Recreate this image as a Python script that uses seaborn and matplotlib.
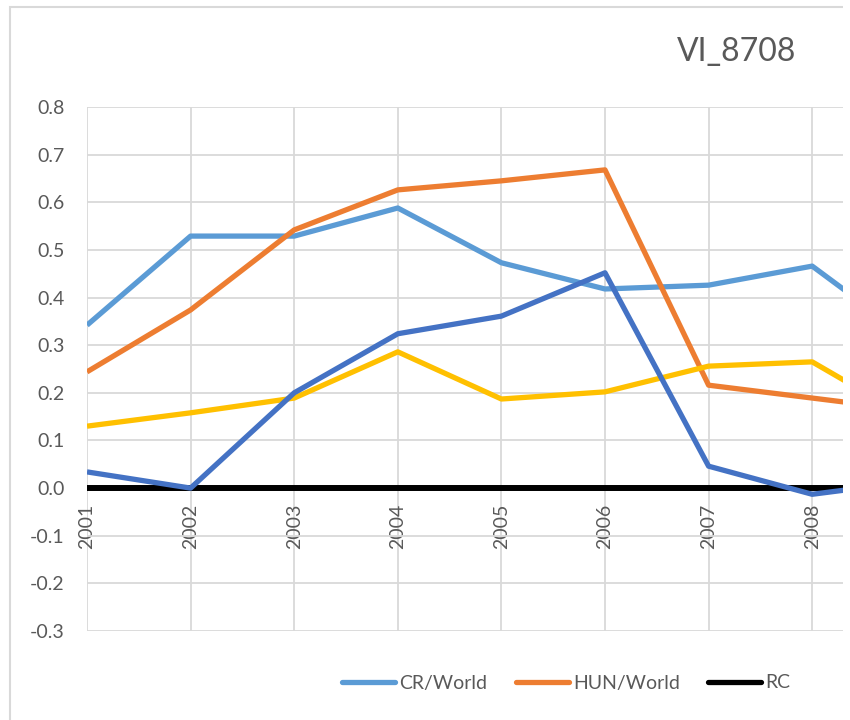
import matplotlib
matplotlib.use("Agg")
import matplotlib.pyplot as plt
import seaborn as sns
import pandas as pd
from matplotlib.patches import Rectangle
from matplotlib.lines import Line2D

years = [2001, 2002, 2003, 2004, 2005, 2006, 2007, 2008, 2009]
cr_world = [0.342, 0.529, 0.529, 0.588, 0.473, 0.418, 0.426, 0.466, 0.305]
hun_world = [0.244, 0.374, 0.542, 0.626, 0.645, 0.668, 0.216, 0.189, 0.162]
rc = [0, 0, 0, 0, 0, 0, 0, 0, 0]
pol_world = [0.130, 0.158, 0.189, 0.286, 0.187, 0.202, 0.256, 0.265, 0.139]
svk_world = [0.034, 0.000, 0.200, 0.324, 0.361, 0.452, 0.046, -0.013, 0.015]

series_names = ["CR/World", "HUN/World", "RC", "POL/World", "SVK/World"]
series_values = [cr_world, hun_world, rc, pol_world, svk_world]
colors = ["#5B9BD5", "#ED7D31", "#000000", "#FFC000", "#4472C4"]
legend_names = ["CR/World", "HUN/World", "RC"]
x_tick_labels = ["2001", "2002", "2003", "2004", "2005", "2006", "2007", "2008", ""]
y_ticks = [-0.3, -0.2, -0.1, 0.0, 0.1, 0.2, 0.3, 0.4, 0.5, 0.6, 0.7, 0.8]
title = "VI_8708"

rows = []
for name, vals in zip(series_names, series_values):
    for yr, v in zip(years, vals):
        rows.append({"year": yr, "value": v, "series": name})
df = pd.DataFrame(rows)

sns.set_theme(style="white")
plt.rcParams["font.family"] = ["Lato", "DejaVu Sans"]

W, H = 850, 720
fig = plt.figure(figsize=(W / 100, H / 100), dpi=100)

# outer chart border (extends beyond the cropped image)
fig.patches.append(Rectangle((10 / W, -0.2), 1.2, (H - 7) / H + 0.2,
                             transform=fig.transFigure, fill=False,
                             edgecolor="#D9D9D9", linewidth=1.5))

left = 87 / W
right_px = 87 + 8 * 103.6
bottom = (H - 631) / H
top = (H - 107) / H
ax = fig.add_axes([left, bottom, (right_px - 87) / W, top - bottom])

sns.lineplot(data=df, x="year", y="value", hue="series",
             hue_order=series_names, palette=colors, linewidth=3.8,
             ax=ax, legend=False, sort=False)
for ln in ax.lines:
    ln.set_solid_joinstyle("round")
    ln.set_solid_capstyle("butt")
ax.lines[2].set_linewidth(4.3)

ax.set_xlim(years[0], years[-1])
ax.set_ylim(-0.3, 0.8)
ax.set_yticks(y_ticks)
ax.set_yticklabels([f"{t:.1f}" for t in y_ticks])
ax.set_xticks(years)
ax.set_xticklabels(x_tick_labels)
ax.grid(True, color="#D9D9D9", linewidth=1.3)
ax.set_axisbelow(True)
for s in ["top", "right", "left"]:
    ax.spines[s].set_visible(False)
ax.spines["bottom"].set_position(("data", 0))
ax.spines["bottom"].set_visible(False)
ax.tick_params(axis="x", length=0, pad=11, labelsize=14, labelcolor="#595959",
               labelrotation=90)
ax.tick_params(axis="y", length=0, pad=16, labelsize=14, labelcolor="#595959")
ax.set_xlabel("")
ax.set_ylabel("")

fig.text(737 / W, (H - 52) / H, title, ha="center", va="center",
         fontsize=23, color="#595959")

handles = [Line2D([0], [0], color=c, linewidth=3.8, solid_capstyle="round")
           for c in colors[:3]]
leg = fig.legend(handles, legend_names, loc="center left",
                 bbox_to_anchor=(342 / W, (H - 683) / H), ncol=3,
                 frameon=False, borderpad=0, borderaxespad=0,
                 handlelength=2.75, handletextpad=0.2, columnspacing=1.45,
                 fontsize=14)
for t in leg.get_texts():
    t.set_color("#595959")

# white strip: the reference is cropped at about x=843
fig.add_artist(Rectangle((843 / W, 0), (W - 843) / W, 1,
                         transform=fig.transFigure, facecolor="white",
                         edgecolor="none", zorder=10))

fig.savefig("out.png", dpi=100)
